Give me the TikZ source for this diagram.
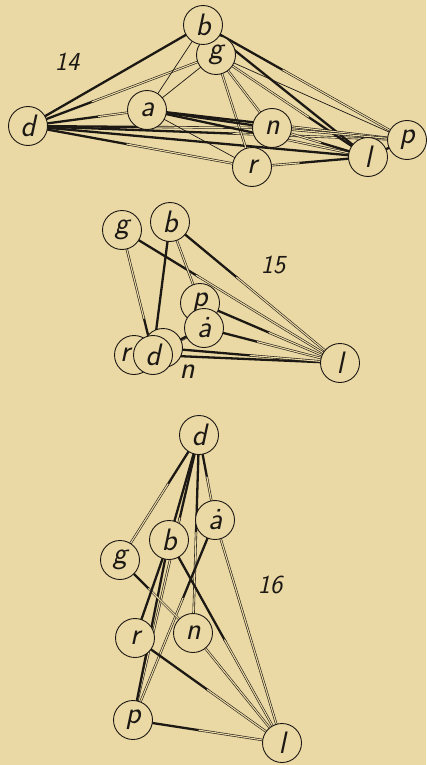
\documentclass[tikz,border=0pt]{standalone}
\usepackage{fontspec}
\usetikzlibrary{calc}
\definecolor{bgc}{RGB}{235,217,165}
\definecolor{ink}{RGB}{28,24,20}
\pgfdeclarelayer{bg}
\pgfsetlayers{bg,main}
\tikzset{
  letterfont/.style={font=\fontsize{31}{31}\selectfont\sffamily\slshape,text=ink},
  pers/.style={circle,draw=ink,line width=0.9pt,fill=bgc,minimum size=39pt,inner sep=0pt,letterfont},
  numlab/.style={font=\fontsize{26}{26}\selectfont\sffamily\slshape,text=ink},
  solidln/.style={draw=ink,line width=2.3pt},
  dblln/.style={draw=ink,double=bgc,line width=0.6pt,double distance=1.1pt},
  thinln/.style={draw=ink,line width=0.7pt}
}
\newcommand\edSD[3][.5]{\draw[solidln] (#2.center) -- ($(#2)!#1!(#3)$);
  \draw[dblln] ($(#2)!#1-0.01!(#3)$) -- (#3.center);}
\newcommand\edSS[2]{\draw[solidln] (#1.center) -- (#2.center);}
\newcommand\edDD[2]{\draw[dblln] (#1.center) -- (#2.center);}
\newcommand\edTT[2]{\draw[thinln] (#1.center) -- (#2.center);}
\begin{document}
\begin{tikzpicture}[x=1pt,y=-1pt]
\useasboundingbox (0,0) rectangle (426,765);
% ---------- 14 ----------
\node[numlab] (t14) at (67,62) {14};
\node[pers] (g14) at (216,55) {g};
\node[pers] (b14) at (203,25) {b};
\node[pers] (d14) at (28,126) {d};
\node[pers] (a14) at (147,110) {a};
\node[pers] (n14) at (272,128) {n};
\node[pers] (r14) at (252,167) {r};
\node[pers] (p14) at (407,140) {p};
\node[pers] (l14) at (368,157) {l};
% ---------- 15 ----------
\node[numlab] (t15) at (273,265) {15};
\node[pers] (g15) at (122,230) {g};
\node[pers] (b15) at (170,222) {b};
\node[pers] (p15) at (200,303) {p};
\node[pers] (a15) at (204,328) {\.{a}};
\node[pers,label={[letterfont,inner sep=0pt,anchor=center,xshift=24pt,yshift=-24pt]center:n}] (n15) at (163,348) {};
\node[pers,label={[letterfont,inner sep=0pt,anchor=center,xshift=-9pt]center:r}] (r15) at (134,355) {};
\node[pers] (d15) at (153,355) {d};
\node[pers] (l15) at (340,363) {l};
% ---------- 16 ----------
\node[numlab] (t16) at (270,585) {16};
\node[pers] (d16) at (199,435) {d};
\node[pers] (a16) at (215,520) {\.{a}};
\node[pers] (b16) at (169,540) {b};
\node[pers] (g16) at (120,560) {g};
\node[pers] (r16) at (135,638) {r};
\node[pers] (n16) at (193,633) {n};
\node[pers] (p16) at (133,720) {p};
\node[pers] (l16) at (282,743) {l};
\begin{pgfonlayer}{bg}
\fill[bgc] (0,0) rectangle (426,765);
% 14
\edSS{d14}{b14}
\edSD[.35]{d14}{g14}
\edSD[.6]{d14}{a14}
\edSD{d14}{n14}
\edSS{d14}{l14}
\edSD[.55]{d14}{p14}
\edSD[.45]{d14}{r14}
\edTT{b14}{a14}
\edSS{b14}{l14}
\edSD[.4]{b14}{p14}
\edTT{g14}{a14}
\edDD{g14}{n14}
\edDD{g14}{r14}
\edSD[.4]{l14}{g14}
\edTT{g14}{p14}
\edSS{a14}{n14}
\edSD{a14}{l14}
\edTT{a14}{r14}
\edSD{a14}{p14}
\edSD{l14}{n14}
\edDD{n14}{p14}
\edSD[.6]{l14}{r14}
\edSS{l14}{p14}
% 15
\edSD[.3]{d15}{g15}
\edSD[.35]{g15}{l15}
\edSS{b15}{d15}
\edDD{b15}{p15}
\edSD[.4]{b15}{l15}
\edSD{p15}{l15}
\edSD[.4]{a15}{l15}
\edSS{d15}{l15}
\edDD{d15}{a15}
\edSS{n15}{a15}
\edSD{n15}{l15}
% 16
\edSD[.4]{d16}{g16}
\edSS{d16}{b16}
\edSD[.3]{d16}{p16}
\edSD{d16}{a16}
\edSD{d16}{n16}
\edSD[.4]{a16}{p16}
\edDD{a16}{l16}
\edSS{b16}{p16}
\edSD{b16}{l16}
\edSD[.4]{g16}{n16}
\edDD{n16}{l16}
\edSS{r16}{b16}
\edSD{r16}{l16}
\edSD[.45]{p16}{l16}
\end{pgfonlayer}
\end{tikzpicture}
\end{document}
